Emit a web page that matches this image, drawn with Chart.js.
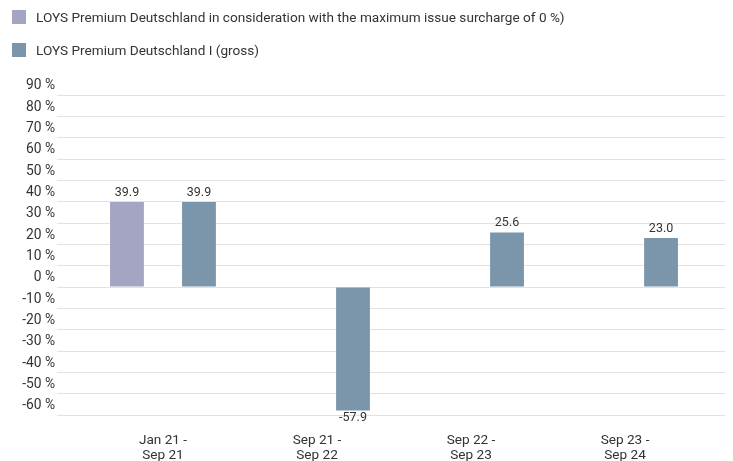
<!DOCTYPE html>
<html>
<head>
<meta charset="utf-8">
<script src="https://cdn.jsdelivr.net/npm/chart.js@4/dist/chart.umd.min.js"></script>
<style>
  html, body { margin: 0; padding: 0; background: #fff; overflow: hidden; width: 733px; height: 461px; }
  #wrap { position: relative; width: 733px; height: 480px; }
  #legend { position: absolute; left: 12px; top: 10px; font-family: Roboto, sans-serif; font-size: 13.6px; color: #333; z-index: 2; }
  .lg-item { display: flex; align-items: center; height: 14px; margin-bottom: 19px; white-space: nowrap; }
  .lg-box { width: 14px; height: 14px; margin-right: 10px; }
  canvas { position: absolute; left: 0; top: 0; }
</style>
</head>
<body>
<div id="wrap">
  <div id="legend"></div>
  <canvas id="chart" width="733" height="480"></canvas>
</div>
<script>
const categories = [['Jan 21 -', 'Sep 21'], ['Sep 21 -', 'Sep 22'], ['Sep 22 -', 'Sep 23'], ['Sep 23 -', 'Sep 24']];
const seriesNames = ['LOYS Premium Deutschland in consideration with the maximum issue surcharge of 0 %)', 'LOYS Premium Deutschland I (gross)'];
const seriesColors = ['#a3a5c3', '#7b96ab'];
const valuesSurcharge = [39.9, null, null, null];
const valuesGross = [39.9, -57.9, 25.6, 23.0];
const yTicks = { min: -60, max: 90, step: 10 };

const FONT = 'Roboto, sans-serif';

// legend (html)
document.getElementById('legend').innerHTML = seriesNames.map((n, i) =>
  `<div class="lg-item"><div class="lg-box" style="background:${seriesColors[i]}"></div><span>${n}</span></div>`).join('');

const toPoints = (arr) => arr.map((v, i) => ({ x: i, y: v }));

const valueLabels = {
  id: 'valueLabels',
  afterDatasetsDraw(chart) {
    const ctx = chart.ctx;
    ctx.save();
    ctx.font = '12.5px ' + FONT;
    ctx.fillStyle = '#333';
    ctx.textAlign = 'center';
    chart.data.datasets.forEach((ds, di) => {
      chart.getDatasetMeta(di).data.forEach((bar, i) => {
        const v = ds.data[i].y;
        if (v === null || v === undefined) return;
        if (v >= 0) { ctx.textBaseline = 'bottom'; ctx.fillText(v.toFixed(1), bar.x, bar.y - 3); }
        else { ctx.textBaseline = 'top'; ctx.fillText(v.toFixed(1), bar.x, bar.y + 1); }
      });
    });
    ctx.restore();
  }
};

new Chart(document.getElementById('chart'), {
  type: 'bar',
  data: {
    datasets: [
      { label: seriesNames[0], data: toPoints(valuesSurcharge), backgroundColor: seriesColors[0], borderWidth: 0 },
      { label: seriesNames[1], data: toPoints(valuesGross), backgroundColor: seriesColors[1], borderWidth: 0 }
    ]
  },
  options: {
    responsive: false,
    animation: false,
    categoryPercentage: 0.935,
    barPercentage: 0.47,
    layout: { padding: { top: 95, right: 8, left: 0, bottom: 0 } },
    plugins: { legend: { display: false }, tooltip: { enabled: false } },
    scales: {
      x: {
        type: 'linear',
        offset: false,
        min: -0.688, max: 3.649,
        grid: { display: false, drawTicks: false, offset: false },
        border: { display: false },
        afterFit: (s) => { s.height = 65; },
        ticks: {
          stepSize: 1, includeBounds: false, autoSkip: false, maxRotation: 0, padding: 18,
          color: '#333', font: { family: FONT, size: 13.6, lineHeight: 1.12 },
          callback: (v) => categories[v] || ''
        }
      },
      y: {
        min: yTicks.min, max: yTicks.max,
        grid: { color: '#e2e2e2', lineWidth: 1, drawTicks: false },
        border: { display: false },
        afterFit: (s) => { s.width = 57; },
        ticks: {
          stepSize: yTicks.step, padding: 2, labelOffset: -9,
          color: '#333', font: { family: FONT, size: 13.8 },
          callback: (v) => v + ' %'
        }
      }
    }
  },
  plugins: [valueLabels]
});
</script>
</body>
</html>
